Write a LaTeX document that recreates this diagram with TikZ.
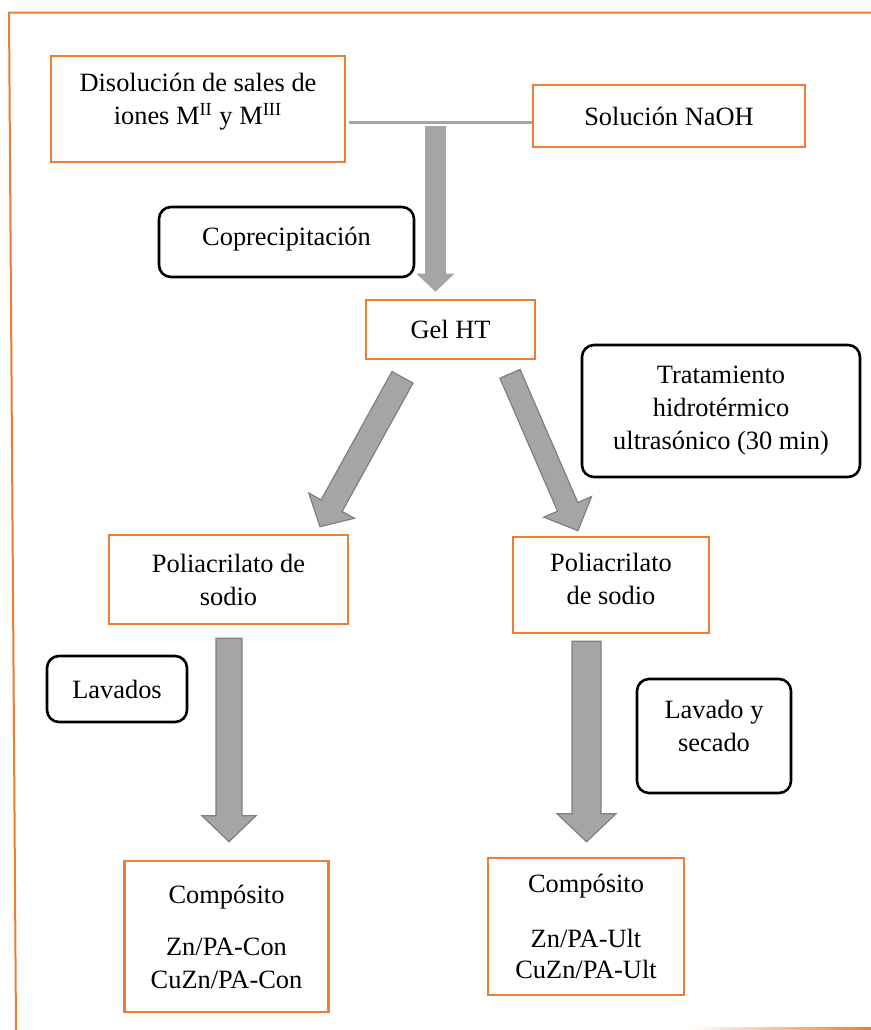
\documentclass[tikz,border=0pt]{standalone}
\usepackage{fontspec}
\setmainfont{Liberation Serif}
\usetikzlibrary{calc}
\definecolor{boxorange}{HTML}{ED7D31}
\definecolor{arrowgrey}{HTML}{A5A5A5}
\definecolor{edgegrey}{HTML}{7F7F7F}
\tikzset{
  orangebox/.style={draw=boxorange, line width=1.3pt, align=center, inner sep=2pt,
    font=\fontsize{13.2}{16.5}\selectfont},
  roundbox/.style={draw=black, line width=1.3pt, rounded corners=6pt, align=center, inner sep=2pt,
    font=\fontsize{13.2}{16.5}\selectfont},
  fatarrow/.style={fill=arrowgrey, draw=edgegrey, line width=0.6pt, line join=miter},
  flatarrow/.style={fill=arrowgrey, draw=none}
}
% block arrow: [style]{from}{to}{shaft half width}{head half width}{head length}
\newcommand{\fatarrow}[6][fatarrow]{%
  \coordinate (fa-h) at ($(#3)!#6!(#2)$);
  \filldraw[#1] ($(#2)!#4!90:(#3)$) -- ($(fa-h)!#4!-90:(#2)$) -- ($(fa-h)!#5!-90:(#2)$)
    -- (#3) -- ($(fa-h)!#5!90:(#2)$) -- ($(fa-h)!#4!90:(#2)$) -- ($(#2)!#4!-90:(#3)$) -- cycle;}

\begin{document}
\begin{tikzpicture}[x=0.5pt, y=-0.5pt]
\useasboundingbox (0,0) rectangle (871,1030);
\draw[boxorange, line width=1pt] (871,12.5) -- (9,12.5) -- (16,1030);
\shade[left color=white, right color=boxorange] (690,1027.5) rectangle (871,1030);

\node[orangebox, minimum width=147pt, minimum height=53pt, text depth=10.5pt] (sales) at (198,109)
  {Disolución de sales de\\ iones M\textsuperscript{II} y M\textsuperscript{III}};
\node[orangebox, minimum width=136pt, minimum height=31pt] (naoh) at (669,116) {Solución NaOH};
\node[roundbox, minimum width=127.5pt, minimum height=35pt, text depth=5.5pt] (copre) at (286.5,242) {Coprecipitación};
\node[orangebox, minimum width=84.5pt, minimum height=29.5pt] (gel) at (450.5,329.5) {Gel HT};
\node[roundbox, minimum width=139pt, minimum height=66pt] (trat) at (721,411)
  {Tratamiento\\ hidrotérmico\\ ultrasónico (30 min)};
\node[orangebox, minimum width=119.5pt, minimum height=44.5pt] (poliL) at (228.5,579.5) {Poliacrilato de\\ sodio};
\node[orangebox, minimum width=98pt, minimum height=48pt, text depth=6.5pt] (poliR) at (611,585) {Poliacrilato\\ de sodio};
\node[roundbox, minimum width=70pt, minimum height=33pt] (lav) at (117,689) {Lavados};
\node[roundbox, minimum width=77pt, minimum height=57pt, text depth=10.5pt] (lavsec) at (714,736) {Lavado y\\ secado};
\node[orangebox, minimum width=102pt, minimum height=75.5pt] (compL) at (226.5,936.5)
  {Compósito\\[9.5pt] Zn/PA-Con\\ CuZn/PA-Con};
\node[orangebox, minimum width=98pt, minimum height=68.5pt] (compR) at (586,926.5)
  {Compósito\\[11pt] Zn/PA-Ult\\[-1pt] CuZn/PA-Ult};

% mixing line and arrows
\coordinate (mix) at (435.5,122.5);
\draw[arrowgrey, line width=1.5pt] ($(sales.east |- mix)+(3,0)$) -- (naoh.west |- mix);
\coordinate (top1) at ($(mix)+(0,3.5)$);
\coordinate (top2) at ($(mix |- gel.north)+(0,-7)$);
\fatarrow[flatarrow]{top1}{top2}{5.25pt}{9.5pt}{9pt}

\coordinate (dgl1) at ($(gel.south)+(-48,17)$);
\coordinate (dgl2) at ($(poliL.north)+(91.5,-7)$);
\fatarrow{dgl1}{dgl2}{6pt}{13pt}{12pt}
\coordinate (dgr1) at ($(gel.south)+(59.5,13.5)$);
\coordinate (dgr2) at ($(poliR.north)+(-33,-5)$);
\fatarrow{dgr1}{dgr2}{5.5pt}{13pt}{13pt}

\coordinate (dnl1) at ($(poliL.south)+(0.5,13)$);
\coordinate (dnl2) at ($(dnl1 |- compL.north)+(0,-18)$);
\fatarrow{dnl1}{dnl2}{6.5pt}{13.5pt}{13pt}
\coordinate (dnr1) at ($(poliR.south)+(-24.5,7)$);
\coordinate (dnr2) at ($(dnr1 |- compR.north)+(0,-15)$);
\fatarrow{dnr1}{dnr2}{7.25pt}{14.75pt}{14pt}
\end{tikzpicture}
\end{document}
